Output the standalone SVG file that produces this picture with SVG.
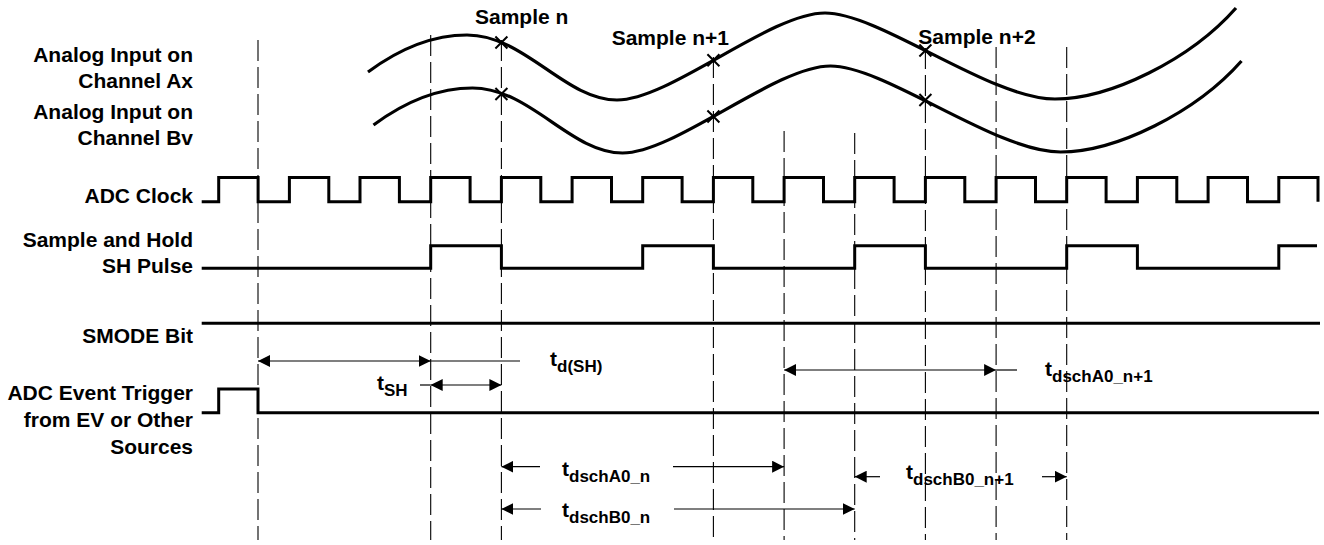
<svg xmlns="http://www.w3.org/2000/svg" width="1324" height="545" viewBox="0 0 1324 545">
<style>
.lbl{font-family:"Liberation Sans",Arial,Helvetica,sans-serif;font-weight:bold;font-size:21px;text-anchor:end;fill:#000}
.tx{font-family:"Liberation Sans",Arial,Helvetica,sans-serif;font-weight:bold;font-size:21px;fill:#000}
.sub{font-size:17px}
.wave{fill:none;stroke:#000;stroke-width:3;stroke-linejoin:miter}
.curve{fill:none;stroke:#000;stroke-width:3.2}
.guide{fill:none;stroke:#000;stroke-width:1.1;stroke-dasharray:21 6}
.dim{fill:none;stroke:#000;stroke-width:1.2}
.xm{fill:none;stroke:#000;stroke-width:2}
</style>
<defs>
<marker id="ah" viewBox="0 0 12 12" refX="12" refY="6" markerWidth="12" markerHeight="12" markerUnits="userSpaceOnUse" orient="auto-start-reverse">
<path d="M0,0 L12,6 L0,12 z" fill="#000"/>
</marker>
</defs>

<g id="guides">
<line class="guide" x1="258" y1="40" x2="258" y2="540"/>
<line class="guide" x1="430.7" y1="35" x2="430.7" y2="540"/>
<line class="guide" x1="501.4" y1="40" x2="501.4" y2="540"/>
<line class="guide" x1="713.4" y1="57" x2="713.4" y2="540"/>
<line class="guide" x1="784.1" y1="131" x2="784.1" y2="540"/>
<line class="guide" x1="854.7" y1="133" x2="854.7" y2="540"/>
<line class="guide" x1="925.4" y1="48" x2="925.4" y2="540"/>
<line class="guide" x1="996.1" y1="47" x2="996.1" y2="540"/>
<line class="guide" x1="1066.7" y1="47" x2="1066.7" y2="540"/>
</g>

<g id="labels">
<text class="lbl" x="193" y="62">Analog Input on</text>
<text class="lbl" x="193" y="87.5">Channel Ax</text>
<text class="lbl" x="193" y="118.5">Analog Input on</text>
<text class="lbl" x="193" y="145">Channel Bv</text>
<text class="lbl" x="193" y="203">ADC Clock</text>
<text class="lbl" x="193" y="247">Sample and Hold</text>
<text class="lbl" x="193" y="273">SH Pulse</text>
<text class="lbl" x="193" y="343">SMODE Bit</text>
<text class="lbl" x="193" y="400">ADC Event Trigger</text>
<text class="lbl" x="193" y="427">from EV or Other</text>
<text class="lbl" x="193" y="454">Sources</text>
</g>

<g id="analog-ax">
<path class="curve" d="M368,72 C395,52 430,35 467,35 C525,35 565,100 617,100 C670,100 770,13 825,13 C880,13 990,99 1055,99 C1110,99 1190,60 1236,8"/>
<path class="xm" d="M495.4,36.5 L507.4,48.5 M495.4,48.5 L507.4,36.5"/>
<path class="xm" d="M707.4,54.3 L719.4,66.3 M707.4,66.3 L719.4,54.3"/>
<path class="xm" d="M919.4,44.5 L931.4,56.5 M919.4,56.5 L931.4,44.5"/>
</g>

<g id="analog-bv">
<path class="curve" transform="translate(5.5,53)" d="M368,72 C395,52 430,35 467,35 C525,35 565,100 617,100 C670,100 770,13 825,13 C880,13 990,99 1055,99 C1110,99 1190,60 1236,8"/>
<path class="xm" d="M495.4,88 L507.4,100 M495.4,100 L507.4,88"/>
<path class="xm" d="M707.4,110.5 L719.4,122.5 M707.4,122.5 L719.4,110.5"/>
<path class="xm" d="M919.4,94 L931.4,106 M919.4,106 L931.4,94"/>
</g>

<g id="sample-labels">
<text class="tx" x="475" y="24">Sample n</text>
<text class="tx" x="611.7" y="45">Sample n+1</text>
<text class="tx" x="918.3" y="43.5">Sample n+2</text>
</g>

<g id="adc-clock">
<path class="wave" d="M201.7,201.7 H218.7 V177.5 H258.1 V201.7 H289.4 V177.5 H328.8 V201.7 H360 V177.5 H399.4 V201.7 H430.7 V177.5 H470.1 V201.7 H501.4 V177.5 H540.8 V201.7 H572.1 V177.5 H611.5 V201.7 H642.7 V177.5 H682.1 V201.7 H713.4 V177.5 H752.8 V201.7 H784.1 V177.5 H823.5 V201.7 H854.7 V177.5 H894.1 V201.7 H925.4 V177.5 H964.8 V201.7 H996.1 V177.5 H1035.5 V201.7 H1066.7 V177.5 H1106.1 V201.7 H1137.4 V177.5 H1176.8 V201.7 H1208.1 V177.5 H1247.5 V201.7 H1278.8 V177.5 H1318 V201.7"/>
</g>

<g id="sh-pulse">
<path class="wave" d="M201.7,268.3 H430.7 V245.7 H501.4 V268.3 H642.7 V245.7 H713.4 V268.3 H854.7 V245.7 H925.4 V268.3 H1066.7 V245.7 H1137.4 V268.3 H1278.8 V245.7 H1317"/>
</g>

<g id="smode-bit">
<path class="wave" d="M201.7,323.3 H1320"/>
</g>

<g id="adc-trigger">
<path class="wave" d="M201.7,412.7 H218.7 V389 H258 V412.7 H1319"/>
</g>

<g id="connectors">
<line class="dim" x1="258" y1="361" x2="430.7" y2="361" marker-start="url(#ah)" marker-end="url(#ah)"/>
<line class="dim" x1="430.7" y1="361" x2="520" y2="361"/>
<line class="dim" x1="420" y1="385" x2="430.7" y2="385"/>
<line class="dim" x1="430.7" y1="385" x2="501.4" y2="385" marker-start="url(#ah)" marker-end="url(#ah)"/>
<line class="dim" x1="784.1" y1="370" x2="996.1" y2="370" marker-start="url(#ah)" marker-end="url(#ah)"/>
<line class="dim" x1="996.1" y1="370" x2="1017" y2="370"/>
<line class="dim" x1="540" y1="466.7" x2="501.4" y2="466.7" marker-end="url(#ah)"/>
<line class="dim" x1="673" y1="466.7" x2="784.1" y2="466.7" marker-end="url(#ah)"/>
<line class="dim" x1="541" y1="509" x2="501.4" y2="509" marker-end="url(#ah)"/>
<line class="dim" x1="674" y1="509" x2="854.7" y2="509" marker-end="url(#ah)"/>
<line class="dim" x1="880" y1="476.7" x2="854.7" y2="476.7" marker-end="url(#ah)"/>
<line class="dim" x1="1042" y1="476.7" x2="1066.7" y2="476.7" marker-end="url(#ah)"/>
</g>

<g id="timing-labels">
<text class="tx" x="550" y="366">t<tspan class="sub" dy="6">d(SH)</tspan></text>
<text class="tx" x="377" y="390">t<tspan class="sub" dy="6">SH</tspan></text>
<text class="tx" x="1045" y="376">t<tspan class="sub" dy="6">dschA0_n+1</tspan></text>
<text class="tx" x="562" y="476">t<tspan class="sub" dy="6">dschA0_n</tspan></text>
<text class="tx" x="562" y="517">t<tspan class="sub" dy="6">dschB0_n</tspan></text>
<text class="tx" x="906" y="479">t<tspan class="sub" dy="6">dschB0_n+1</tspan></text>
</g>
</svg>
